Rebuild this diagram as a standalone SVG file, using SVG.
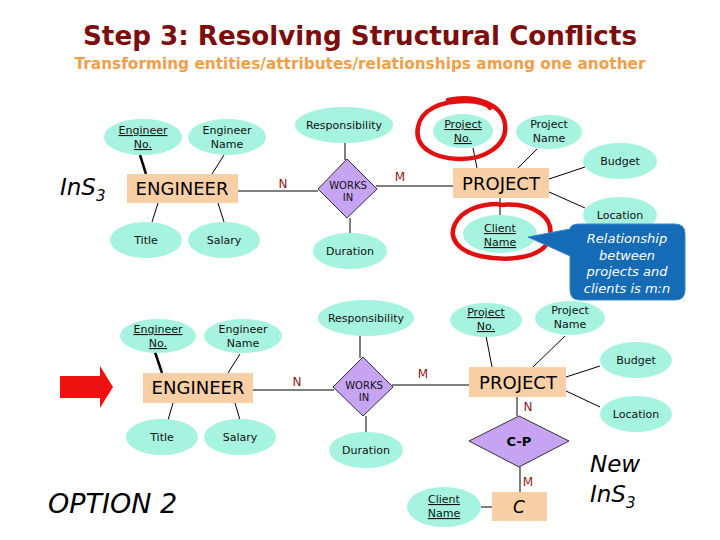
<svg xmlns="http://www.w3.org/2000/svg" width="720" height="540" viewBox="0 0 720 540">
<style>
text{font-family:"DejaVu Sans","Liberation Sans",sans-serif;}
.attr{fill:#a6f3df;stroke:none;}
.ent{fill:#f9cfa6;stroke:none;}
.rel{fill:#c7a3f3;stroke:#333;stroke-width:1;}
.lbl{font-size:11px;fill:#111;text-anchor:middle;}
.key{text-decoration:underline;}
.etx{font-size:18px;fill:#000;text-anchor:middle;}
.rtx{font-size:10px;fill:#111;text-anchor:middle;}
.card{font-size:12px;fill:#8b1a1a;text-anchor:middle;}
.ln{stroke:#000;stroke-width:1;fill:none;}
.thick{stroke:#000;stroke-width:2.5;fill:none;}
.ring{stroke:#e01010;stroke-width:4.5;fill:none;stroke-linecap:round;}
.call{font-size:13px;fill:#fff;font-style:italic;text-anchor:middle;}
.big{font-style:italic;fill:#000;}
</style>
<rect width="720" height="540" fill="#fff"/>
<text x="360" y="45" font-size="27" font-weight="bold" fill="#7d0d0d" text-anchor="middle" textLength="554" lengthAdjust="spacingAndGlyphs">Step 3: Resolving Structural Conflicts</text>
<text x="360" y="69" font-size="15" font-weight="bold" fill="#f0a048" text-anchor="middle" textLength="571" lengthAdjust="spacingAndGlyphs">Transforming entities/attributes/relationships among one another</text>

<g id="connectors">
<line class="thick" x1="140" y1="155" x2="146" y2="174"/>
<line class="ln" x1="224" y1="155" x2="212" y2="174"/>
<line class="ln" x1="158" y1="203" x2="152" y2="222"/>
<line class="ln" x1="218" y1="203" x2="224" y2="222"/>
<line class="ln" x1="238" y1="191" x2="318" y2="191"/>
<line class="ln" x1="345" y1="143" x2="345" y2="160"/>
<line class="ln" x1="350" y1="218" x2="350" y2="233"/>
<line class="ln" x1="376" y1="186" x2="453" y2="186"/>
<line class="ln" x1="473" y1="148" x2="477" y2="168"/>
<line class="ln" x1="537" y1="149" x2="518" y2="168"/>
<line class="ln" x1="549" y1="179" x2="585" y2="167"/>
<line class="ln" x1="549" y1="192" x2="585" y2="208"/>
<line class="ln" x1="500" y1="198" x2="500" y2="215"/>

<line class="thick" x1="155" y1="352" x2="162" y2="373"/>
<line class="ln" x1="240" y1="354" x2="228" y2="373"/>
<line class="ln" x1="173" y1="403" x2="168" y2="420"/>
<line class="ln" x1="235" y1="403" x2="240" y2="420"/>
<line class="ln" x1="253" y1="390" x2="334" y2="390"/>
<line class="ln" x1="360" y1="335" x2="360" y2="358"/>
<line class="ln" x1="366" y1="416" x2="366" y2="433"/>
<line class="ln" x1="392" y1="385" x2="469" y2="385"/>
<line class="ln" x1="486" y1="336" x2="492" y2="367"/>
<line class="ln" x1="565" y1="336" x2="533" y2="367"/>
<line class="ln" x1="566" y1="377" x2="600" y2="366"/>
<line class="ln" x1="566" y1="391" x2="600" y2="407"/>
<line class="ln" x1="517" y1="397" x2="517" y2="416"/>
<line class="ln" x1="520" y1="467" x2="520" y2="493"/>
<line class="ln" x1="481" y1="507" x2="492" y2="507"/>

<text class="card" x="283" y="188">N</text>
<text class="card" x="400" y="181">M</text>
<text class="card" x="297" y="386">N</text>
<text class="card" x="423" y="378">M</text>
<text class="card" x="528" y="411">N</text>
<text class="card" x="528" y="486">M</text>
</g>

<!-- Top section -->
<text class="big" x="60" y="195" font-size="23">InS<tspan font-size="15" dy="6">3</tspan></text>

<g id="top-engineer-no"><ellipse class="attr" cx="143" cy="137" rx="39" ry="18"/><text class="lbl key" x="143" y="134">Engineer</text><text class="lbl key" x="143" y="148">No.</text></g>
<g id="top-engineer-name"><ellipse class="attr" cx="227" cy="137" rx="39" ry="18"/><text class="lbl" x="227" y="134">Engineer</text><text class="lbl" x="227" y="148">Name</text></g>
<g id="top-engineer"><rect class="ent" x="127" y="174" width="111" height="29"/><text class="etx" x="182" y="195">ENGINEER</text></g>
<g id="top-title"><ellipse class="attr" cx="146" cy="240" rx="36" ry="18"/><text class="lbl" x="146" y="244">Title</text></g>
<g id="top-salary"><ellipse class="attr" cx="224" cy="240" rx="36" ry="18"/><text class="lbl" x="224" y="244">Salary</text></g>
<g id="top-responsibility"><ellipse class="attr" cx="344" cy="125" rx="49" ry="18"/><text class="lbl" x="344" y="129">Responsibility</text></g>
<g id="top-works-in"><polygon class="rel" points="347,159 377,189 347,218 318,189"/><text class="rtx" x="348" y="189">WORKS</text><text class="rtx" x="348" y="201">IN</text></g>
<g id="top-duration"><ellipse class="attr" cx="350" cy="251" rx="37" ry="18"/><text class="lbl" x="350" y="255">Duration</text></g>
<g id="top-project"><rect class="ent" x="453" y="168" width="96" height="30"/><text class="etx" x="501" y="190">PROJECT</text></g>
<g id="top-project-no"><ellipse class="attr" cx="463" cy="131" rx="30" ry="17"/><text class="lbl key" x="463" y="128">Project</text><text class="lbl key" x="463" y="142">No.</text>
<path class="ring" d="M 448 100 C 475 94, 502 104, 505 124 C 508 145, 485 160, 458 159 C 432 158, 414 146, 418 127 C 421 110, 440 101, 466 101 C 478 101, 488 104, 490 108"/></g>
<g id="top-project-name"><ellipse class="attr" cx="549" cy="132" rx="33" ry="17"/><text class="lbl" x="549" y="128">Project</text><text class="lbl" x="549" y="142">Name</text></g>
<g id="top-budget"><ellipse class="attr" cx="620" cy="161" rx="37" ry="18"/><text class="lbl" x="620" y="165">Budget</text></g>
<g id="top-location"><ellipse class="attr" cx="620" cy="215" rx="37" ry="18"/><text class="lbl" x="620" y="219">Location</text></g>
<g id="top-client-name"><ellipse class="attr" cx="500" cy="234" rx="37" ry="19"/><text class="lbl key" x="500" y="232">Client</text><text class="lbl key" x="500" y="246">Name</text>
<path class="ring" d="M 500 205 C 535 202, 556 218, 549 240 C 542 258, 508 262, 480 256 C 458 251, 448 238, 455 224 C 462 210, 480 204, 498 204"/></g>
<g id="callout">
<path d="M 580 224 H 675 Q 685 224 685 234 V 290 Q 685 300 675 300 H 580 Q 570 300 570 290 V 256 L 528 237 L 570 229 Q 570 224 580 224 Z" fill="#156bb6" stroke="#3a86c8" stroke-width="1"/>
<text class="call" x="627" y="243">Relationship</text>
<text class="call" x="627" y="260">between</text>
<text class="call" x="627" y="276">projects and</text>
<text class="call" x="627" y="293">clients is m:n</text>
</g>

<!-- Bottom section -->
<path d="M 60 376 H 100 V 366 L 113 387 L 100 408 V 398 H 60 Z" fill="#ee1111"/>
<g id="bot-engineer-no"><ellipse class="attr" cx="158" cy="336" rx="38" ry="17"/><text class="lbl key" x="158" y="333">Engineer</text><text class="lbl key" x="158" y="347">No.</text></g>
<g id="bot-engineer-name"><ellipse class="attr" cx="243" cy="336" rx="39" ry="17"/><text class="lbl" x="243" y="333">Engineer</text><text class="lbl" x="243" y="347">Name</text></g>
<g id="bot-engineer"><rect class="ent" x="143" y="373" width="110" height="30"/><text class="etx" x="198" y="394">ENGINEER</text></g>
<g id="bot-title"><ellipse class="attr" cx="162" cy="437" rx="36" ry="18"/><text class="lbl" x="162" y="441">Title</text></g>
<g id="bot-salary"><ellipse class="attr" cx="240" cy="437" rx="36" ry="18"/><text class="lbl" x="240" y="441">Salary</text></g>
<g id="bot-responsibility"><ellipse class="attr" cx="366" cy="318" rx="48" ry="18"/><text class="lbl" x="366" y="322">Responsibility</text></g>
<g id="bot-works-in"><polygon class="rel" points="363,357 393,387 363,416 333,387"/><text class="rtx" x="364" y="389">WORKS</text><text class="rtx" x="364" y="401">IN</text></g>
<g id="bot-duration"><ellipse class="attr" cx="366" cy="450" rx="37" ry="18"/><text class="lbl" x="366" y="454">Duration</text></g>
<g id="bot-project"><rect class="ent" x="469" y="367" width="97" height="30"/><text class="etx" x="518" y="389">PROJECT</text></g>
<g id="bot-project-no"><ellipse class="attr" cx="486" cy="320" rx="36" ry="17"/><text class="lbl key" x="486" y="316">Project</text><text class="lbl key" x="486" y="330">No.</text></g>
<g id="bot-project-name"><ellipse class="attr" cx="570" cy="318" rx="35" ry="17"/><text class="lbl" x="570" y="314">Project</text><text class="lbl" x="570" y="328">Name</text></g>
<g id="bot-budget"><ellipse class="attr" cx="636" cy="360" rx="36" ry="18"/><text class="lbl" x="636" y="364">Budget</text></g>
<g id="bot-location"><ellipse class="attr" cx="636" cy="414" rx="36" ry="18"/><text class="lbl" x="636" y="418">Location</text></g>
<g id="bot-cp"><polygon class="rel" points="519,416 569,441 519,467 469,441"/><text x="519" y="446" font-size="13" font-weight="bold" text-anchor="middle" fill="#000">C-P</text></g>
<g id="bot-c"><rect class="ent" x="492" y="492" width="55" height="29"/><text x="519" y="513" font-size="17" font-style="italic" text-anchor="middle" fill="#000">C</text></g>
<g id="bot-client-name"><ellipse class="attr" cx="444" cy="507" rx="37" ry="20"/><text class="lbl key" x="444" y="503">Client</text><text class="lbl key" x="444" y="517">Name</text></g>
<text class="big" x="48" y="513" font-size="27">OPTION 2</text>
<text class="big" x="590" y="472" font-size="23">New</text>
<text class="big" x="590" y="502" font-size="23">InS<tspan font-size="15" dy="6">3</tspan></text>
</svg>
